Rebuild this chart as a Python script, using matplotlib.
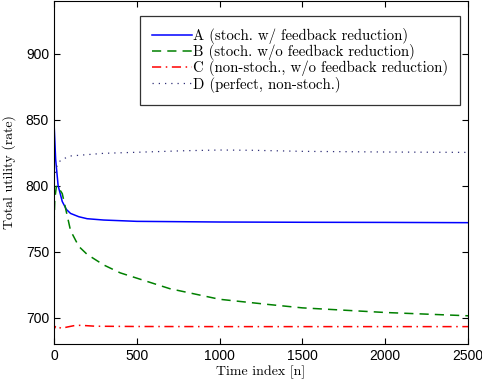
import matplotlib.pyplot as plt

# series
n_a = [0, 3, 10, 25, 50, 75, 100, 150, 200, 300, 500, 1000, 1500, 2000, 2500]
util_a = [848, 840, 820, 800, 788, 782, 779, 776.5, 775, 774, 773, 772.5, 772.3, 772.2, 772]

n_b = [0, 5, 15, 30, 50, 75, 100, 150, 200, 300, 400, 500, 700, 1000, 1300, 1500, 2000, 2500]
util_b = [770, 790, 800, 798, 794, 780, 766, 754, 748, 740, 734, 730, 722, 714, 710, 707.5, 704, 701.5]

n_c = [0, 3, 10, 25, 45, 80, 120, 160, 250, 500, 1000, 1500, 2000, 2500]
util_c = [697, 692, 694, 693, 692, 693, 694, 694.3, 693.6, 693.4, 693.3, 693.3, 693.3, 693.3]

n_d = [0, 5, 10, 20, 30, 50, 100, 200, 300, 500, 800, 1000, 1200, 1500, 2000, 2500]
util_d = [815, 812, 810, 816, 818, 820, 822.5, 823.5, 824.5, 825.3, 826.5, 827, 826.8, 826, 825.5, 825.2]

labels = ['A (stoch. w/ feedback reduction)',
          'B (stoch. w/o feedback reduction)',
          'C (non-stoch., w/o feedback reduction)',
          'D (perfect, non-stoch.)']

fig = plt.figure(figsize=(4.82, 3.85), dpi=100)
ax = fig.add_axes([0.112, 0.106, 0.859, 0.892])

ax.plot(n_a, util_a, color='#0000ff', lw=1.1, label=labels[0])
ax.plot(n_b, util_b, color='#008000', lw=1.1, ls=(0, (6, 4)), label=labels[1])
ax.plot(n_c, util_c, color='#ff0000', lw=1.1, ls=(0, (6, 3, 1, 3)), label=labels[2])
ax.plot(n_d, util_d, color='#303078', lw=0.9, ls=(0, (1, 4)), label=labels[3])

ax.set_xlim(0, 2500)
ax.set_ylim(680, 940)
ax.set_xticks([0, 500, 1000, 1500, 2000, 2500])
ax.set_yticks([700, 750, 800, 850, 900])
ax.tick_params(direction='in', top=True, right=True, length=4, labelsize=10)
for lab in ax.get_xticklabels() + ax.get_yticklabels():
    lab.set_family('Liberation Sans')

ax.set_xlabel('Time index [n]', family='cmr10', fontsize=10, labelpad=2)
ax.set_ylabel('Total utility (rate)', family='cmr10', fontsize=10, labelpad=7)

leg = ax.legend(loc='upper right', bbox_to_anchor=(0.981, 0.956),
                prop={'family': 'cmr10', 'size': 10.7}, fancybox=False,
                framealpha=1, edgecolor='#333333', handlelength=2.7,
                handletextpad=0.1, borderpad=0.8, labelspacing=0.02,
                borderaxespad=0)
leg.get_frame().set_linewidth(0.9)

fig.savefig('out.png', dpi=100)
